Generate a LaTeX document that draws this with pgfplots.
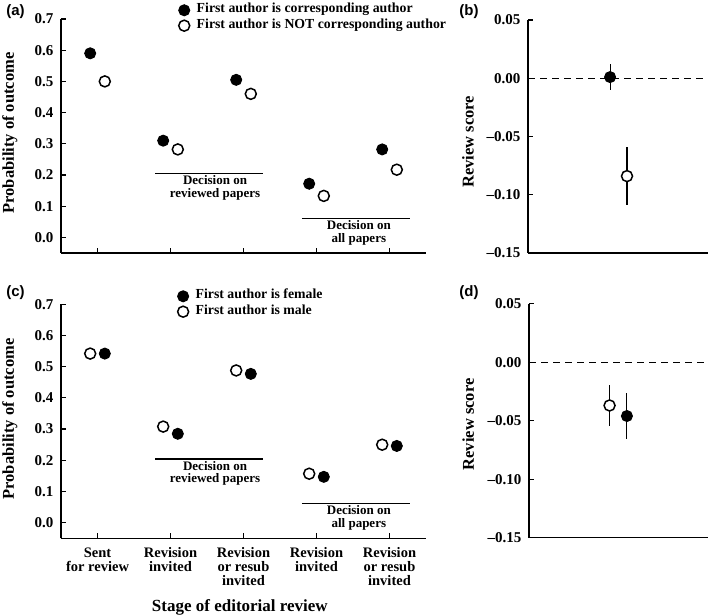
\documentclass[border=0pt]{standalone}
\usepackage{fontspec}
\setmainfont{Liberation Serif}
\setsansfont{Liberation Sans}
\usepackage{pgfplots}
\pgfplotsset{compat=1.18}
\tikzset{dectext/.style={align=center, anchor=north, inner sep=2pt, font=\fontsize{13}{12.5}\selectfont\bfseries},
  letter/.style={font=\fontsize{15}{15}\selectfont\sffamily\bfseries}}
\begin{document}
\begin{tikzpicture}
\useasboundingbox (0pt,0pt) rectangle (709pt,615pt);
\pgfplotsset{
  panel/.style={scale only axis, axis x line*=bottom, axis y line*=left,
    axis line style={line width=1.3pt, black},
    tick style={line width=1.2pt, black}, major tick length=5pt, tick align=inside,
    /pgf/number format/assume math mode=true,
    ylabel style={font=\fontsize{16.5}{16.5}\selectfont\bfseries, anchor=center},
    clip=false},
  probpanel/.style={panel, width=365pt, height=234pt, xmin=0.5, xmax=5.5, ymin=-0.05, ymax=0.7,
    xtick={1,2,3,4,5}, ytick={0,0.1,0.2,0.3,0.4,0.5,0.6,0.7},
    yticklabel={\pgfmathprintnumber[fixed,fixed zerofill,precision=1]{\tick}},
    yticklabel style={font=\fontsize{15}{15}\selectfont\bfseries, xshift=-4pt},
    ylabel={Probability of outcome},
    ylabel style={at={(axis description cs:-0.14,0.513)}},
    legend cell align=left,
    legend image code/.code={\draw[##1] plot coordinates {(0pt,0pt)};},
    legend style={draw=none, fill=none, inner sep=0pt, anchor=north west, column sep=5pt,
      font=\fontsize{13.8}{13.8}\selectfont\bfseries,
      nodes={inner ysep=3pt, inner xsep=2pt, text height=0.72em, text depth=0.22em}}},
  scorepanel/.style={panel, width=180pt, height=233pt, xmin=0, xmax=1, ymin=-0.15, ymax=0.05,
    xtick=\empty, ytick={-0.15,-0.1,-0.05,0,0.05},
    yticklabels={–0.15,–0.10,–0.05,0.00,0.05},
    yticklabel style={font=\fontsize{15}{15}\selectfont\bfseries, xshift=-4pt},
    ylabel={Review score}},
  filled/.style={only marks, mark=*, mark size=5.5pt, black, mark options={fill=black, line width=1pt}},
  open/.style={only marks, mark=*, mark size=5.5pt, black, mark options={fill=white, line width=1.5pt}},
  bracket/.style={black, line width=1.3pt, no marks}
}
% ---------------- (a)
\begin{axis}[probpanel, at={(61pt,362pt)}, anchor=south west, xticklabels={},
  legend style={at={(axis description cs:0.322,1.071)}}]
\addplot[filled] coordinates {(0.9,0.59) (1.9,0.31) (2.9,0.505) (3.9,0.172) (4.9,0.282)};
\addlegendentry{First author is corresponding author}
\addplot[open] coordinates {(1.1,0.50) (2.1,0.282) (3.1,0.46) (4.1,0.133) (5.1,0.217)};
\addlegendentry{First author is NOT corresponding author}
\addplot[bracket, forget plot] coordinates {(1.79,0.205) (3.27,0.205)};
\addplot[bracket, forget plot] coordinates {(3.80,0.061) (5.28,0.061)};
\node[dectext] at (axis cs:2.61,0.205) {Decision on\\reviewed papers};
\node[dectext] at (axis cs:4.58,0.061) {Decision on\\all papers};
\end{axis}
% ---------------- (b)
\begin{axis}[scorepanel, at={(528pt,362pt)}, anchor=south west,
  ylabel style={at={(axis description cs:-0.333,0.478)}}]
\addplot[black, line width=0.8pt, dash pattern=on 7pt off 5pt, no marks] coordinates {(0,0) (1,0)};
\addplot[filled, error bars/.cd, y dir=both, y explicit, error mark=none, error bar style={line width=1.1pt}]
  coordinates {(0.456,0.001) +- (0,0.011)};
\addplot[open, error bars/.cd, y dir=both, y explicit, error mark=none, error bar style={line width=1.1pt}]
  coordinates {(0.55,-0.084) +- (0,0.025)};
\end{axis}
% ---------------- (c)
\begin{axis}[probpanel, at={(61pt,76.7pt)}, anchor=south west,
  xticklabels={Sent\\for review, Revision\\invited, Revision\\or resub\\invited, Revision\\invited, Revision\\or resub\\invited},
  xticklabel style={align=center, font=\fontsize{14.5}{14}\selectfont\bfseries, yshift=-6pt},
  xlabel={Stage of editorial review},
  xlabel style={font=\fontsize{17}{17}\selectfont\bfseries, at={(axis description cs:0.49,-0.295)}, anchor=center},
  ylabel style={at={(axis description cs:-0.14,0.51)}},
  legend style={at={(axis description cs:0.319,1.068)}}]
\addplot[filled] coordinates {(1.1,0.542) (2.1,0.285) (3.1,0.477) (4.1,0.147) (5.1,0.246)};
\addlegendentry{First author is female}
\addplot[open] coordinates {(0.9,0.542) (1.9,0.308) (2.9,0.488) (3.9,0.157) (4.9,0.25)};
\addlegendentry{First author is male}
\addplot[bracket, forget plot] coordinates {(1.79,0.204) (3.27,0.204)};
\addplot[bracket, forget plot] coordinates {(3.80,0.062) (5.28,0.062)};
\node[dectext] at (axis cs:2.61,0.204) {Decision on\\reviewed papers};
\node[dectext] at (axis cs:4.58,0.062) {Decision on\\all papers};
\end{axis}
% ---------------- (d)
\begin{axis}[scorepanel, at={(529pt,77.3pt)}, anchor=south west, width=179pt, height=234pt,
  ylabel style={at={(axis description cs:-0.34,0.484)}}]
\addplot[black, line width=0.8pt, dash pattern=on 7pt off 5pt, no marks] coordinates {(0,0) (1,0)};
\addplot[open, error bars/.cd, y dir=both, y explicit, error mark=none, error bar style={line width=1.1pt}]
  coordinates {(0.45,-0.037) +- (0,0.0175)};
\addplot[filled, error bars/.cd, y dir=both, y explicit, error mark=none, error bar style={line width=1.1pt}]
  coordinates {(0.547,-0.046) +- (0,0.0195)};
\end{axis}
% panel letters
\node[letter] at (15.5pt,603pt) {(a)};
\node[letter] at (469pt,603pt) {(b)};
\node[letter] at (15.5pt,322pt) {(c)};
\node[letter] at (469pt,322pt) {(d)};
\end{tikzpicture}
\end{document}
